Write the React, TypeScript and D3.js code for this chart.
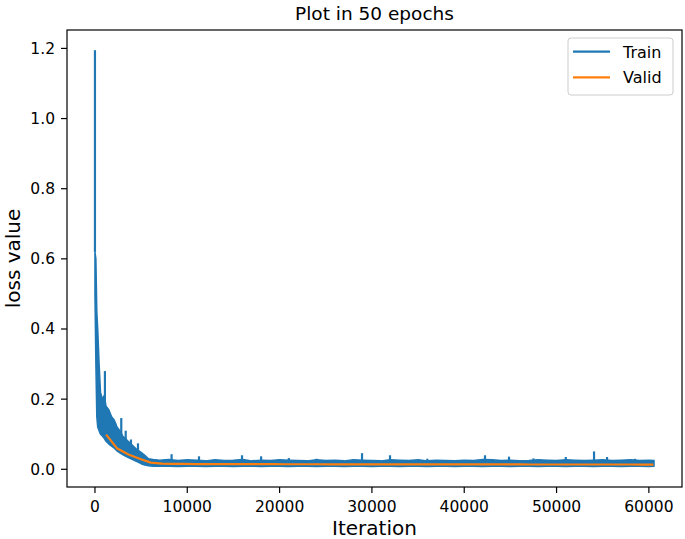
import React, { useEffect } from "react";
import * as d3 from "d3";

// train loss: band of the noisy curve (upper / lower envelope)
const trainIter = [0, 100, 200, 300, 450, 600, 800, 1000, 1200, 1500, 1800, 2100, 2400, 2700, 3000, 3400, 3800, 4200, 4600, 5000, 5400, 5800, 6300,
  7000, 8000, 9000, 10000, 11000, 12000, 13000, 14000, 15000, 16000, 17000, 18000, 19000, 20000, 21000, 22000, 23000, 24000, 25000,
  26000, 27000, 28000, 29000, 30000, 31000, 32000, 33000, 34000, 35000, 36000, 37000, 38000, 39000, 40000, 41000, 42000, 43000,
  44000, 45000, 46000, 47000, 48000, 49000, 50000, 51000, 52000, 53000, 54000, 55000, 56000, 57000, 58000, 59000, 60000, 60560];
const trainHigh = [0.62, 0.6, 0.45, 0.4, 0.3, 0.22, 0.2, 0.21, 0.18, 0.17, 0.15, 0.14, 0.12, 0.11, 0.095, 0.085, 0.075, 0.065, 0.055, 0.048, 0.04, 0.03, 0.028,
  0.026, 0.028, 0.025, 0.027, 0.026, 0.024, 0.027, 0.025, 0.026, 0.028, 0.024, 0.026, 0.025, 0.027, 0.026, 0.025, 0.024, 0.027, 0.025,
  0.026, 0.024, 0.027, 0.026, 0.025, 0.024, 0.027, 0.026, 0.025, 0.027, 0.024, 0.026, 0.025, 0.024, 0.026, 0.025, 0.028, 0.027,
  0.025, 0.026, 0.024, 0.025, 0.027, 0.026, 0.025, 0.027, 0.026, 0.025, 0.026, 0.027, 0.025, 0.026, 0.027, 0.025, 0.026, 0.025];
const trainLow = [0.5, 0.3, 0.15, 0.12, 0.11, 0.1, 0.095, 0.088, 0.08, 0.072, 0.066, 0.06, 0.052, 0.047, 0.042, 0.036, 0.031, 0.026, 0.021, 0.016, 0.012, 0.01, 0.009,
  0.0085, 0.009, 0.008, 0.0085, 0.009, 0.008, 0.0085, 0.009, 0.008, 0.0085, 0.009, 0.008, 0.0085, 0.009, 0.008, 0.0085, 0.009, 0.008, 0.0085,
  0.009, 0.008, 0.0085, 0.009, 0.008, 0.0085, 0.009, 0.008, 0.0085, 0.009, 0.008, 0.0085, 0.009, 0.008, 0.0085, 0.009, 0.008, 0.0085,
  0.009, 0.008, 0.0085, 0.009, 0.008, 0.0085, 0.009, 0.008, 0.0085, 0.009, 0.008, 0.0085, 0.009, 0.008, 0.0085, 0.009, 0.008, 0.0085];

// isolated spikes of the train curve
const spikeIter = [0, 1080, 1520, 2200, 2850, 3330, 3900, 4660, 8300, 11270, 15930, 18000, 21000, 24000, 28930, 31960, 36000, 42250, 44850, 47500, 51000, 54060, 55470, 58500];
const spikeVal = [1.195, 0.28, 0.16, 0.13, 0.146, 0.11, 0.085, 0.074, 0.043, 0.037, 0.04, 0.037, 0.032, 0.03, 0.046, 0.04, 0.03, 0.04, 0.036, 0.031, 0.035, 0.051, 0.035, 0.03];

// validation loss, one point per epoch
const validIter = d3.range(1, 51).map((e) => e * 1210);
const validVal = [0.099, 0.059, 0.042, 0.03, 0.019, 0.016, 0.0155, 0.0152, 0.015, 0.0149, 0.0148, 0.0147, 0.0146, 0.0146, 0.0145, 0.0145, 0.0144, 0.0144,
  0.0143, 0.0143, 0.0142, 0.0142, 0.0142, 0.0141, 0.0141, 0.0141, 0.014, 0.014, 0.014, 0.014, 0.0139, 0.0139, 0.0139, 0.0139, 0.0138,
  0.0138, 0.0138, 0.0138, 0.0137, 0.0137, 0.0137, 0.0137, 0.0137, 0.0136, 0.0136, 0.0136, 0.0136, 0.0136, 0.0135, 0.0135];

const xTicks = [0, 10000, 20000, 30000, 40000, 50000, 60000];
const yTicks = [0, 0.2, 0.4, 0.6, 0.8, 1.0, 1.2];

const W = 685, H = 539;
const L = 67, R = 682, T = 30, B = 487;
const BLUE = "#1f77b4", ORANGE = "#ff7f0e";
const FONT = "'DejaVu Sans', sans-serif";

export default function App() {
  useEffect(() => {
    document.body.style.margin = "0";
  }, []);

  const x = d3.scaleLinear().domain([-3028, 63588]).range([L, R]);
  const y = d3.scaleLinear().domain([-0.0505, 1.2525]).range([B, T]);

  const band = d3.area<number>()
    .x((i) => x(trainIter[i]))
    .y0((i) => y(trainLow[i]))
    .y1((i) => y(trainHigh[i]));
  const validLine = d3.line<number>()
    .x((i) => x(validIter[i]))
    .y((i) => y(validVal[i]));

  // spike foot: sits inside the band (lowest top of the two bracketing band samples)
  const spikeBase = (it: number) => {
    const j = Math.min(d3.bisectLeft(trainIter, it), trainIter.length - 1);
    return Math.min(trainHigh[j], trainHigh[Math.max(j - 1, 0)]);
  };

  return (
    <svg width={W} height={H} style={{ display: "block", background: "#fff" }} fontFamily={FONT}>
      <text x={(L + R) / 2} y={20} textAnchor="middle" fontSize={18.5}>Plot in 50 epochs</text>

      <g>
        <path d={band(d3.range(trainIter.length)) || ""} fill={BLUE} stroke={BLUE} strokeWidth={1.5} strokeLinejoin="round" />
        {spikeIter.map((it, i) => (
          <line key={i} x1={x(it)} x2={x(it)} y1={y(spikeBase(it))} y2={y(spikeVal[i])} stroke={BLUE} strokeWidth={2.2} />
        ))}
        <path d={validLine(d3.range(validIter.length)) || ""} fill="none" stroke={ORANGE} strokeWidth={2.2} strokeLinejoin="round" />
      </g>

      <rect x={L} y={T} width={R - L} height={B - T} fill="none" stroke="#000" strokeWidth={1.2} />

      {xTicks.map((t) => (
        <g key={t} transform={`translate(${x(t)},${B})`}>
          <line y2={6} stroke="#000" strokeWidth={1.2} />
          <text y={25} textAnchor="middle" fontSize={15.5}>{t}</text>
        </g>
      ))}
      {yTicks.map((t) => (
        <g key={t} transform={`translate(${L},${y(t)})`}>
          <line x2={-6} stroke="#000" strokeWidth={1.2} />
          <text x={-12} dy="0.35em" textAnchor="end" fontSize={15.5}>{d3.format(".1f")(t)}</text>
        </g>
      ))}

      <text x={(L + R) / 2} y={535} textAnchor="middle" fontSize={20}>Iteration</text>
      <text transform={`translate(20,${(T + B) / 2}) rotate(-90)`} textAnchor="middle" fontSize={20}>loss value</text>

      <g>
        <rect x={568} y={38} width={105} height={57} rx={3} fill="#fff" fillOpacity={0.8} stroke="#cccccc" strokeWidth={1} />
        <line x1={573} x2={610} y1={51.7} y2={51.7} stroke={BLUE} strokeWidth={2.2} />
        <text x={623} y={57.5} fontSize={16}>Train</text>
        <line x1={573} x2={610} y1={77.3} y2={77.3} stroke={ORANGE} strokeWidth={2.2} />
        <text x={623} y={83} fontSize={16}>Valid</text>
      </g>
    </svg>
  );
}
